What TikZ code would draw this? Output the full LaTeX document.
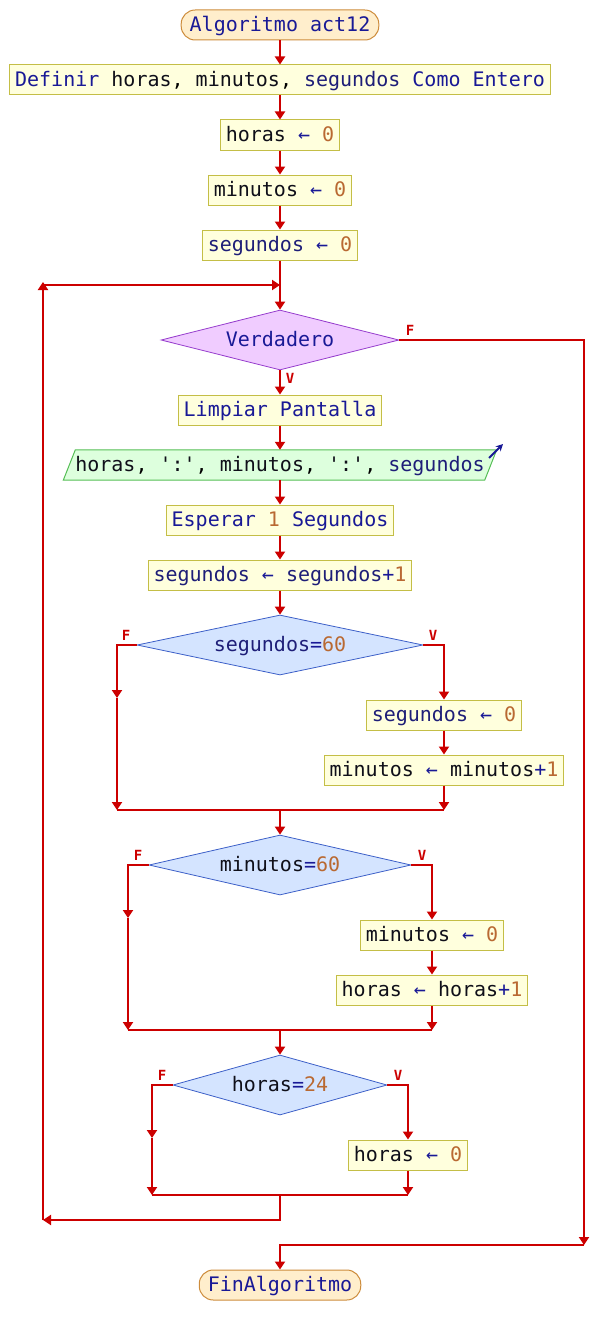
\documentclass[tikz,border=0pt]{standalone}
\usepackage{fontspec}
\setmonofont{DejaVu Sans Mono}
\newfontfamily\pfont{DejaVu Sans Mono}
\newfontfamily\lfont{DejaVu Sans Mono Bold}
\usetikzlibrary{arrows.meta,shapes.geometric,backgrounds}
\definecolor{arrred}{RGB}{204,0,0}
\definecolor{boxfill}{RGB}{255,255,221}
\definecolor{boxdraw}{RGB}{196,190,70}
\definecolor{termfill}{RGB}{255,238,204}
\definecolor{termdraw}{RGB}{205,140,60}
\definecolor{purfill}{RGB}{240,204,255}
\definecolor{purdraw}{RGB}{150,60,205}
\definecolor{bluefill}{RGB}{212,228,255}
\definecolor{bluedraw}{RGB}{60,95,200}
\definecolor{grnfill}{RGB}{221,255,221}
\definecolor{grndraw}{RGB}{85,190,85}
\definecolor{kwcol}{RGB}{25,25,150}
\definecolor{vcol}{RGB}{15,15,25}
\definecolor{scol}{RGB}{30,30,120}
\definecolor{ncol}{RGB}{185,105,50}
\newcommand{\kw}[1]{\textcolor{kwcol}{#1}}
\newcommand{\vr}[1]{\textcolor{vcol}{#1}}
\newcommand{\sg}[1]{\textcolor{scol}{#1}}
\newcommand{\nm}[1]{\textcolor{ncol}{#1}}
\newcommand{\asg}{\textcolor{kwcol}{←}}
\begin{document}
\begin{tikzpicture}[x=1pt,y=-1pt,
  every node/.style={font=\pfont\fontsize{20}{24}\selectfont},
  base/.style={minimum height=30pt, inner ysep=0pt, text height=17pt, text depth=4pt},
  procbox/.style={base, draw=boxdraw, fill=boxfill, line width=1pt, inner xsep=5.5pt},
  termbox/.style={base, draw=termdraw, fill=termfill, line width=1pt, rounded corners=14pt, inner xsep=8.5pt},
  outbox/.style={base, inner xsep=0pt},
  decpur/.style={diamond, aspect=5, inner sep=0pt, draw=purdraw, fill=purfill, line width=0.8pt, minimum height=60pt, text height=17pt, text depth=4pt},
  decblue/.style={diamond, aspect=5, inner sep=0pt, draw=bluedraw, fill=bluefill, line width=0.8pt, minimum height=60pt, text height=17pt, text depth=4pt},
  arr/.style={draw=arrred, line width=2pt, -{Triangle[width=10pt,length=8pt]}},
  ln/.style={draw=arrred, line width=2pt},
  lab/.style={font=\lfont\fontsize{14}{15}\selectfont, text=arrred, inner sep=0pt}
]
\useasboundingbox (0,0) rectangle (594,1335);

% nodes
\node[termbox] (start) at (280,25) {\kw{Algoritmo act12}};
\node[procbox] (def) at (280,80) {\kw{Definir} \vr{horas}, \vr{minutos}, \sg{segundos} \kw{Como Entero}};
\node[procbox] (h0) at (280,135) {\vr{horas} \asg{} \nm{0}};
\node[procbox] (m0) at (280,190) {\vr{minutos} \asg{} \nm{0}};
\node[procbox] (s0) at (280,245) {\sg{segundos} \asg{} \nm{0}};
\node[decpur, minimum width=238pt] (d0) at (280,340) {\kw{Verdadero}};
\node[procbox] (cls) at (280,410) {\kw{Limpiar Pantalla}};
\node[outbox, minimum width=421pt] (out) at (280,465) {\vr{horas}, \vr{':'}, \vr{minutos}, \vr{':'}, \sg{segundos}};
\node[procbox] (esp) at (280,520) {\kw{Esperar} \nm{1} \kw{Segundos}};
\node[procbox] (inc) at (280,575) {\sg{segundos} \asg{} \sg{segundos}\kw{+}\nm{1}};
\node[decblue, minimum width=286pt] (d1) at (280,645) {\sg{segundos}\kw{=}\nm{60}};
\node[procbox] (s00) at (444,715) {\sg{segundos} \asg{} \nm{0}};
\node[procbox] (mi) at (444,770) {\vr{minutos} \asg{} \vr{minutos}\kw{+}\nm{1}};
\node[decblue, minimum width=262pt] (d2) at (280,865) {\vr{minutos}\kw{=}\nm{60}};
\node[procbox] (m00) at (432,935) {\vr{minutos} \asg{} \nm{0}};
\node[procbox] (hi) at (432,990) {\vr{horas} \asg{} \vr{horas}\kw{+}\nm{1}};
\node[decblue, minimum width=214pt] (d3) at (280,1085) {\vr{horas}\kw{=}\nm{24}};
\node[procbox] (h00) at (408,1155) {\vr{horas} \asg{} \nm{0}};
\node[termbox] (fin) at (280,1285) {\kw{FinAlgoritmo}};

% output parallelogram
\begin{scope}[on background layer]
\draw[draw=grndraw, fill=grnfill, line width=1pt]
  ([xshift=-6pt]out.south west) -- ([xshift=6pt]out.north west) --
  ([xshift=6pt]out.north east) -- ([xshift=-6pt]out.south east) -- cycle;
\end{scope}
\coordinate (oi1) at (489,458);
\coordinate (oi2) at (503,444);
\draw[draw=kwcol, line width=2pt, -{Stealth[length=7pt,width=7pt]}] (oi1) -- (oi2);

% coordinates
\coordinate (lt) at (43,285);
\coordinate (lb) at (43,1220);
\coordinate (lj) at (280,285);
\coordinate (rt) at (584,340);
\coordinate (rb) at (584,1245);
\coordinate (rj) at (280,1245);

\coordinate (f1a) at (117,645);
\coordinate (f1m) at (117,698);
\coordinate (f1b) at (117,810);
\coordinate (v1b) at (444,810);
\coordinate (j1) at (280,810);

\coordinate (f2a) at (128,865);
\coordinate (f2m) at (128,918);
\coordinate (f2b) at (128,1030);
\coordinate (v2b) at (432,1030);
\coordinate (j2) at (280,1030);

\coordinate (f3a) at (152,1085);
\coordinate (f3m) at (152,1138);
\coordinate (f3b) at (152,1195);
\coordinate (v3b) at (408,1195);
\coordinate (j3) at (280,1195);
\coordinate (j3b) at (280,1220);

% main connectors
\draw[arr] (start) -- (def);
\draw[arr] (def) -- (h0);
\draw[arr] (h0) -- (m0);
\draw[arr] (m0) -- (s0);
\draw[arr] (s0.south) -- (d0.north);
\draw[arr] (d0.south) -- (cls.north);
\draw[arr] (cls.south) -- (out.north);
\draw[arr] (out.south) -- (esp.north);
\draw[arr] (esp) -- (inc);
\draw[arr] (inc.south) -- (d1.north);

% segundos=60
\draw[arr] (d1.west) -- (f1a) -- (f1m);
\draw[arr] (f1m) -- (f1b);
\draw[arr] (d1.east) -| (s00.north);
\draw[arr] (s00) -- (mi);
\draw[arr] (mi.south) -- (v1b);
\draw[ln] (f1b) -- (v1b);
\draw[arr] (j1) -- (d2.north);

% minutos=60
\draw[arr] (d2.west) -- (f2a) -- (f2m);
\draw[arr] (f2m) -- (f2b);
\draw[arr] (d2.east) -| (m00.north);
\draw[arr] (m00) -- (hi);
\draw[arr] (hi.south) -- (v2b);
\draw[ln] (f2b) -- (v2b);
\draw[arr] (j2) -- (d3.north);

% horas=24
\draw[arr] (d3.west) -- (f3a) -- (f3m);
\draw[arr] (f3m) -- (f3b);
\draw[arr] (d3.east) -| (h00.north);
\draw[arr] (h00.south) -- (v3b);
\draw[ln] (f3b) -- (v3b);

% loop back
\draw[arr] (j3) -- (j3b) -- (lb);
\draw[arr] (lb) -- ([yshift=3pt]lt);
\draw[arr] (lt) -- (lj);

% exit
\draw[arr] (d0.east) -- (rt) -- (rb);
\draw[arr] (rb) -- (rj) -- (fin.north);

% labels
\node[lab] (lF0) at (410,330) {F};
\node[lab] (lV0) at (290,378) {V};
\node[lab] (lF1) at (126,635) {F};
\node[lab] (lV1) at (433,635) {V};
\node[lab] (lF2) at (138,855) {F};
\node[lab] (lV2) at (422,855) {V};
\node[lab] (lF3) at (162,1075) {F};
\node[lab] (lV3) at (398,1075) {V};
\end{tikzpicture}
\end{document}
